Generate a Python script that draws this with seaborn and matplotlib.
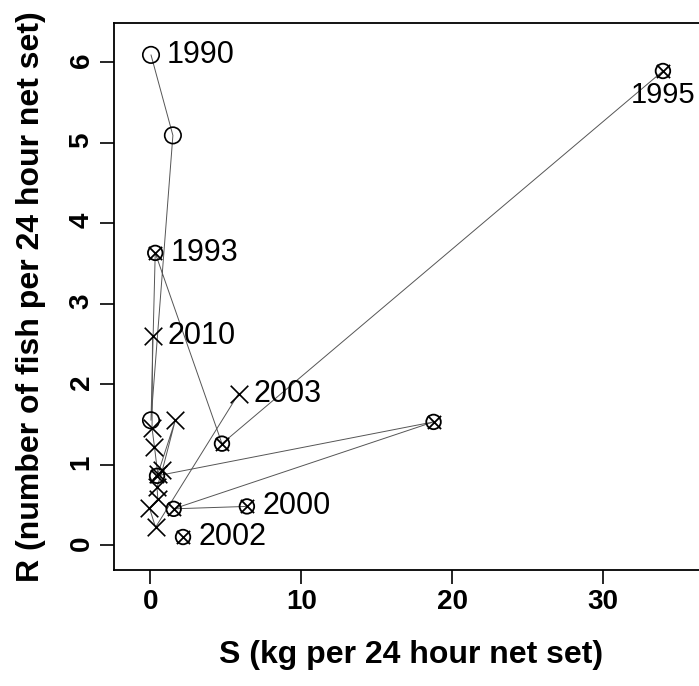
import matplotlib
matplotlib.use("Agg")
import matplotlib.pyplot as plt
import seaborn as sns
import pandas as pd

# points in the order the path is drawn
S = [0.05, 1.50, 0.05, 0.33, 4.75, 33.95,
     0.45, 18.76, 1.55, 6.40,
     2.17,
     5.85, 0.35, -0.05, 0.50, 0.45, 0.80, 1.66, 0.50, 0.28, 0.12, 0.15]
R = [6.09, 5.09, 1.55, 3.63, 1.26, 5.89,
     0.86, 1.53, 0.45, 0.48,
     0.10,
     1.88, 0.22, 0.46, 0.57, 0.72, 0.93, 1.55, 0.88, 1.22, 1.45, 2.60]
kind = ["circle", "circle", "circle", "cross_circle", "cross_circle", "cross_circle",
        "cross_circle", "cross_circle", "cross_circle", "cross_circle",
        "cross_circle",
        "cross", "cross", "cross", "cross", "cross", "cross", "cross", "cross", "cross", "cross", "cross"]
segment = [0, 0, 0, 0, 0, 0,
           1, 1, 1, 1,
           2,
           3, 3, 3, 3, 3, 3, 3, 3, 3, 3, 3]
labels = ["1990", "", "", "1993", "", "1995",
          "", "", "", "2000",
          "2002",
          "2003", "", "", "", "", "", "", "", "", "", "2010"]
label_pos = ["right", "", "", "right", "", "below",
             "", "", "", "right",
             "right",
             "right", "", "", "", "", "", "", "", "", "", "right"]

x_ticks = [0, 10, 20, 30]
y_ticks = [0, 1, 2, 3, 4, 5, 6]

df = pd.DataFrame({"S": S, "R": R, "kind": kind, "segment": segment,
                   "label": labels, "pos": label_pos})

sns.set_style("white")
plt.rcParams["font.family"] = ["Liberation Sans", "DejaVu Sans"]
plt.rcParams["text.color"] = "black"
plt.rcParams["axes.labelcolor"] = "black"
plt.rcParams["xtick.color"] = "black"
plt.rcParams["ytick.color"] = "black"

fig = plt.figure(figsize=(6.99, 6.86), dpi=100)
ax = fig.add_axes([114 / 699, 1 - 570 / 686, 595 / 699, (570 - 22.7) / 686])

sns.lineplot(data=df, x="S", y="R", units="segment", estimator=None, sort=False,
             color="#555555", linewidth=0.7, ax=ax, legend=False)

circ = df[df["kind"].isin(["circle"])]
sns.scatterplot(data=circ, x="S", y="R", marker="o", s=140, facecolors="none",
                edgecolor="black", linewidth=1.2, ax=ax, legend=False, zorder=3)
cc = df[df["kind"] == "cross_circle"]
sns.scatterplot(data=cc, x="S", y="R", marker="o", s=110, facecolors="none",
                edgecolor="black", linewidth=1.3, ax=ax, legend=False, zorder=3)
sns.scatterplot(data=cc, x="S", y="R", marker="x", s=90, color="black",
                linewidth=1.3, ax=ax, legend=False, zorder=3)
cr = df[df["kind"] == "cross"]
sns.scatterplot(data=cr, x="S", y="R", marker="x", s=160, color="black",
                linewidth=1.2, ax=ax, legend=False, zorder=3)

for _, row in df.iterrows():
    if not row["label"]:
        continue
    if row["pos"] == "right":
        ax.annotate(row["label"], (row["S"], row["R"]), xytext=(11, 0),
                    textcoords="offset points", ha="left", va="center",
                    fontsize=22, color="black")
    else:
        ax.annotate(row["label"], (row["S"], row["R"]), xytext=(0, -7),
                    textcoords="offset points", ha="center", va="top",
                    fontsize=21, color="black")

ax.set_xlim(-2.4, 37.0)
ax.set_ylim(-0.31, 6.49)
ax.set_xticks(x_ticks)
ax.set_yticks(y_ticks)
ax.set_xticklabels([str(v) for v in x_ticks], fontsize=20, fontweight="bold")
ax.set_yticklabels([str(v) for v in y_ticks], fontsize=20, fontweight="bold")
ax.tick_params(axis="y", labelrotation=90)
ax.tick_params(direction="out", length=10, width=1.2, color="black", pad=4,
               bottom=True, left=True, labelcolor="black")
for sp in ax.spines.values():
    sp.set_visible(True)
    sp.set_color("black")
    sp.set_linewidth(1.3)

ax.set_xlabel("S (kg per 24 hour net set)", fontsize=23, fontweight="bold", labelpad=18)
ax.set_ylabel("R (number of fish per 24 hour net set)", fontsize=23, fontweight="bold",
              labelpad=16)

fig.savefig("out.png", dpi=100)
